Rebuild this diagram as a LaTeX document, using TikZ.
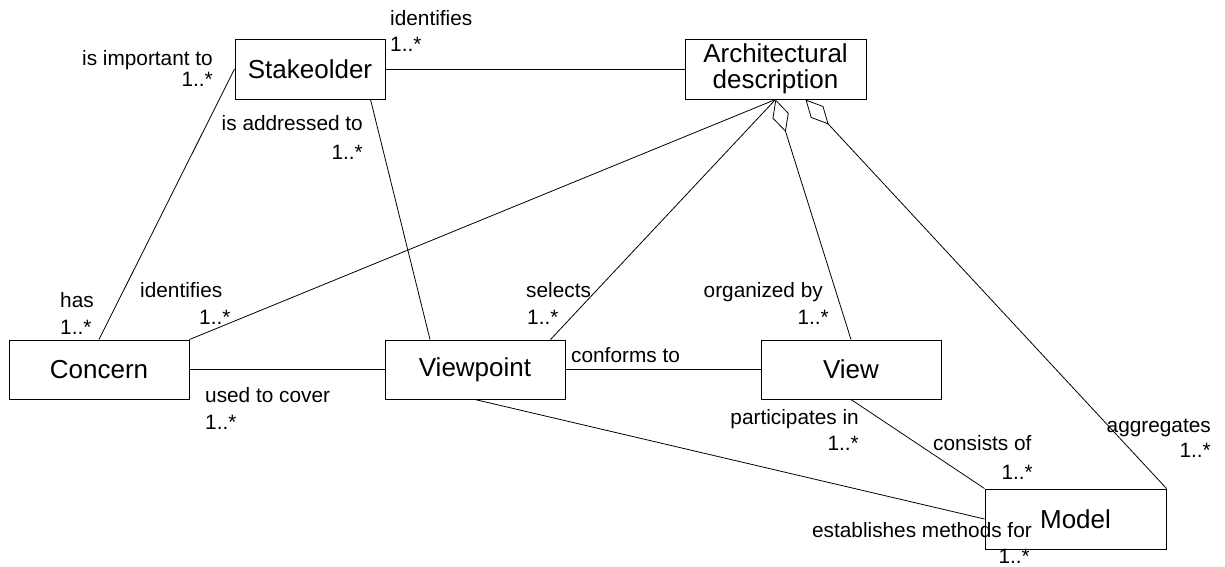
\documentclass[tikz,border=0pt]{standalone}
\usepackage{fontspec}
\setmainfont{Liberation Sans}
\usetikzlibrary{arrows.meta}
\begin{document}
\begin{tikzpicture}[x=1pt,y=-1pt,
  box/.style={draw,line width=1pt,inner sep=0pt,font=\fontsize{26}{26}\selectfont,align=center},
  conn/.style={draw,line width=0.8pt},
  lbl/.style={inner sep=0pt,font=\fontsize{20.8}{24}\selectfont},
  agg/.style={{Diamond[open,length=34pt,width=17pt,line width=0.8pt]}-}
]
\useasboundingbox (0,0) rectangle (1225,566);
% boxes
\node[box,minimum width=150pt,minimum height=60pt] (stake) at (310,69) {Stakeolder};
\node[box,minimum width=181pt,minimum height=60pt] (arch) at (775.5,69) {Architectural\\description};
\node[box,minimum width=180pt,minimum height=59pt] (concern) at (99,369.5) {Concern};
\node[box,minimum width=180pt,minimum height=59pt] (vp) at (475,369.5) {Viewpoint};
\node[box,minimum width=180pt,minimum height=59pt] (view) at (851,369.5) {View};
\node[box,minimum width=181pt,minimum height=60pt] (model) at (1075.5,519) {Model};
% connectors
\draw[conn] (stake.east) -- (arch.west);
\draw[conn] (stake.west) -- (concern.north);
\draw[conn] ([xshift=-15pt]stake.south east) -- ([xshift=-45pt]vp.north);
\draw[conn] (arch.south) -- (concern.north east);
\draw[conn] (arch.south) -- ([xshift=-15pt]vp.north east);
\draw[conn,agg] (arch.south) -- (view.north);
\draw[conn,agg] ([xshift=30pt]arch.south) -- (model.north east);
\draw[conn] (concern.east) -- (vp.west);
\draw[conn] (vp.east) -- (view.west);
\draw[conn] (vp.south) -- (model.west);
\draw[conn] (view.south) -- (model.north west);
% labels
\node[lbl,anchor=base east] (l1a) at (213,65) {is important to};
\node[lbl,anchor=base east] (l1b) at (213,86) {1..*};
\node[lbl,anchor=base west] (l2a) at (390,25) {identifies};
\node[lbl,anchor=base west] (l2b) at (390,51) {1..*};
\node[lbl,anchor=base east] (l3a) at (363,130) {is addressed to};
\node[lbl,anchor=base east] (l3b) at (363,159) {1..*};
\node[lbl,anchor=base west] (l4a) at (60,307) {has};
\node[lbl,anchor=base west] (l4b) at (60,334) {1..*};
\node[lbl,anchor=base west] (l5a) at (140,297) {identifies};
\node[lbl,anchor=base west] (l5b) at (199,324) {1..*};
\node[lbl,anchor=base west] (l6a) at (205,402) {used to cover};
\node[lbl,anchor=base west] (l6b) at (205,429) {1..*};
\node[lbl,anchor=base west] (l7a) at (526,297) {selects};
\node[lbl,anchor=base west] (l7b) at (527,324) {1..*};
\node[lbl,anchor=base west] (l8a) at (571,362) {conforms to};
\node[lbl,anchor=base east] (l9a) at (823,297) {organized by};
\node[lbl,anchor=base east] (l9b) at (829,324) {1..*};
\node[lbl,anchor=base east] (l10a) at (859,424) {participates in};
\node[lbl,anchor=base east] (l10b) at (859,450) {1..*};
\node[lbl,anchor=base west] (l11a) at (933,450) {consists of};
\node[lbl,anchor=base east] (l11b) at (1033,479) {1..*};
\node[lbl,anchor=base east] (l12a) at (1211,432) {aggregates};
\node[lbl,anchor=base east] (l12b) at (1211,457) {1..*};
\node[lbl,anchor=base east] (l13a) at (1032,537) {establishes methods for};
\node[lbl,anchor=base east] (l13b) at (1030,563) {1..*};
\end{tikzpicture}
\end{document}
